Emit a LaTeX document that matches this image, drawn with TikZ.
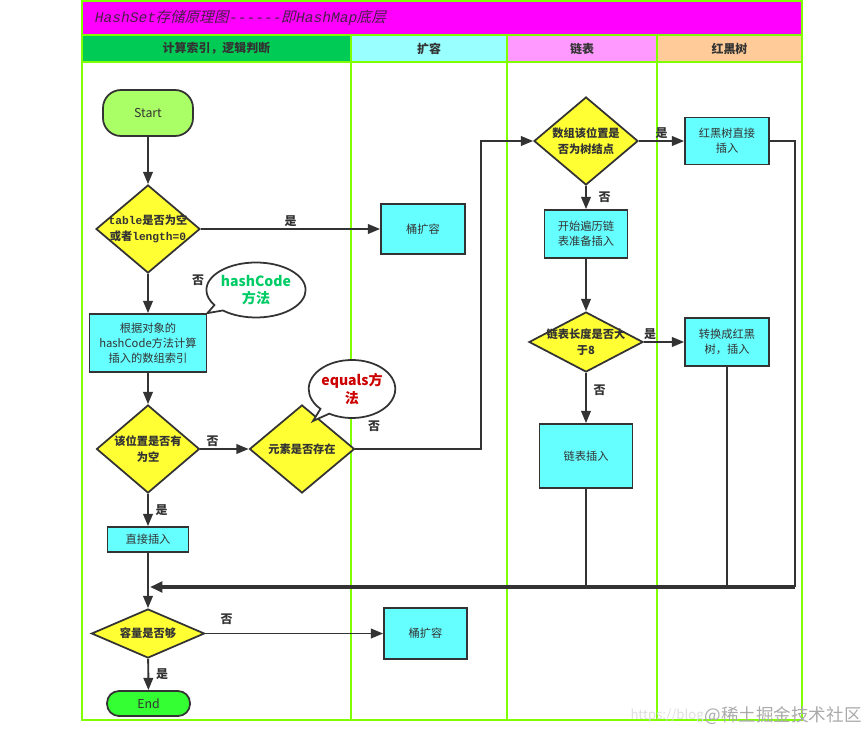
\documentclass[tikz,border=0pt]{standalone}
\usepackage{fontspec}
\setmainfont{Noto Sans CJK SC}
\newfontfamily\monolatin{Liberation Mono}
\newfontfamily\titlemono{Liberation Mono}[FakeSlant=0.2]
\newfontfamily\cjkslant{Noto Sans CJK SC}[FakeSlant=0.25]
\usetikzlibrary{shapes.geometric,shapes.callouts,arrows.meta,positioning}

\definecolor{lanegreen}{HTML}{80FF00}
\definecolor{titlemagenta}{HTML}{FF00FF}
\definecolor{titleink}{HTML}{4A1F4A}
\definecolor{headcalc}{HTML}{00CC55}
\definecolor{headgrow}{HTML}{99FFFF}
\definecolor{headlist}{HTML}{FF99FF}
\definecolor{headtree}{HTML}{FFCC99}
\definecolor{boxcyan}{HTML}{66FFFF}
\definecolor{diayellow}{HTML}{FFFF33}
\definecolor{startlime}{HTML}{AAFF66}
\definecolor{endgreen}{HTML}{33FF33}
\definecolor{ink}{HTML}{333333}
\definecolor{hashgreen}{HTML}{00CC66}
\definecolor{equalsred}{HTML}{CC0000}
\definecolor{wmgray}{HTML}{AAAAAA}
\definecolor{wmlight}{HTML}{DDDDDD}

\newcommand{\pxu}{0.02cm}

\tikzset{
  laneline/.style={draw=lanegreen, line width=1.1pt},
  headtext/.style={font=\fontsize{6.8}{8}\selectfont\bfseries, text=ink},
  terminal/.style={rectangle, draw=ink, line width=1pt, inner sep=0pt, font=\fontsize{7}{8}\selectfont, text=ink},
  process/.style={rectangle, draw=ink, line width=1pt, fill=boxcyan, inner sep=0pt, align=center, font=\fontsize{6.4}{8.5}\selectfont, text=ink},
  decision/.style={diamond, draw=ink, line width=1pt, fill=diayellow, inner sep=0pt},
  dtext/.style={align=center, inner sep=0pt, font=\fontsize{6.4}{9}\selectfont\bfseries, text=ink},
  bubble/.style={ellipse callout, draw=ink, line width=1pt, fill=white, inner sep=0pt, align=center, font=\fontsize{8}{10}\selectfont\bfseries},
  flow/.style={draw=ink, line width=1.1pt, -{Triangle[length=7pt,width=5.5pt]}},
  link/.style={draw=ink, line width=1.1pt},
  backflow/.style={draw=ink, line width=2.2pt, -{Triangle[length=7pt,width=6pt]}},
  branch/.style={font=\fontsize{6.8}{8}\selectfont\bfseries, text=ink, inner sep=1pt},
}

\NewDocumentCommand{\swimlane}{mmmmm}{%
\fill[#4] (#2,35) rectangle (#3,62);
\draw[laneline] (#2,35) rectangle (#3,720);
\draw[laneline] (#2,62) -- (#3,62);
\node[headtext] (#1) at ({(#2+#3)/2},48.5) {#5};%
}

\begin{document}
\begin{tikzpicture}[x=0.02cm,y=-0.02cm]
        \useasboundingbox (0,0) rectangle (868,733);

        % Title bar.
        \fill[titlemagenta] (82,1) rectangle (802,35);
        \draw[laneline] (82,1) rectangle (802,35);
        \node[anchor=west, text=titleink, font=\fontsize{8.3}{10}\selectfont] (title) at (88,18)
            {\titlemono HashSet\cjkslant 存储原理图\titlemono ------\cjkslant 即\titlemono HashMap\cjkslant 底层};

        % Lanes.
        \swimlane{calc}{82}{351}{headcalc}{计算索引，逻辑判断}
        \swimlane{grow}{351}{507}{headgrow}{扩容}
        \swimlane{list}{507}{657}{headlist}{链表}
        \swimlane{tree}{657}{802}{headtree}{红黑树}

        % Index and checks.
        \node[terminal, fill=startlime, minimum width=90*\pxu, minimum height=46*\pxu, rounded corners=0.36cm] (start) at (148,113) {Start};
        \node[decision, minimum width=104*\pxu, minimum height=88*\pxu,
            label={[dtext]center:{\monolatin table}是否为空\\或者{\monolatin length=0}}] (nulltest) at (148,229) {};
        \node[process, minimum width=84*\pxu, minimum height=50*\pxu] (growfirst) at (423,229) {桶扩容};
        \node[process, minimum width=117*\pxu, minimum height=58*\pxu] (hashindex) at (148,343) {根据对象的\\hashCode方法计算\\插入的数组索引};
        \node[decision, minimum width=103*\pxu, minimum height=88*\pxu,
            label={[dtext]center:{该位置是否有\\为空}}] (slotempty) at (148,449) {};
        \node[decision, minimum width=105*\pxu, minimum height=88*\pxu,
            label={[dtext]center:{元素是否存在}}] (elemexists) at (302,449) {};
        \node[process, minimum width=81*\pxu, minimum height=25*\pxu] (directinsert) at (148,539.5) {直接插入};
        \node[decision, minimum width=113*\pxu, minimum height=49*\pxu,
            label={[dtext]center:{容量是否够}}] (capacity) at (148,633.5) {};
        \node[process, minimum width=83*\pxu, minimum height=51*\pxu] (growsecond) at (425.5,633.5) {桶扩容};
        \node[terminal, fill=endgreen, minimum width=83*\pxu, minimum height=25*\pxu, rounded corners=0.24cm] (finish) at (148.5,703.5) {End};

        % Bubbles.
        \node[bubble, text=hashgreen, minimum width=93*\pxu, minimum height=55*\pxu,
            callout absolute pointer={(hashindex.north east)}] (hashbubble) at (256,290) {hashCode\\方法};
        \node[bubble, text=equalsred, minimum width=81*\pxu, minimum height=58*\pxu,
            callout absolute pointer={(313,421)}] (equalsbubble) at (352,389) {equals方\\法};

        % List and tree.
        \node[decision, minimum width=104*\pxu, minimum height=88*\pxu,
            label={[dtext]center:{数组该位置是\\否为树结点}}] (treenode) at (586,141) {};
        \node[process, minimum width=84*\pxu, minimum height=47*\pxu] (treeinsert) at (727,141) {红黑树直接\\插入};
        \node[process, minimum width=83*\pxu, minimum height=48*\pxu] (listwalk) at (586,234) {开始遍历链\\表准备插入};
        \node[decision, minimum width=114*\pxu, minimum height=60*\pxu,
            label={[dtext]center:{链表长度是否大\\于8}}] (listlong) at (586,342) {};
        \node[process, minimum width=84*\pxu, minimum height=48*\pxu] (treeify) at (727,342) {转换成红黑\\树，插入};
        \node[process, minimum width=93*\pxu, minimum height=64*\pxu] (listinsert) at (586,456) {链表插入};

        \coordinate (riser) at (481,141);
        \coordinate (retcorner) at (795,587);
        \coordinate (join) at (150,587);

        % Connectors.
        \draw[flow] (start) -- (nulltest);
        \draw[flow] (nulltest) -- node[branch, above] {是} (growfirst);
        \draw[flow] (nulltest) -- node[branch, pos=0.15, xshift=1cm] {否} (hashindex);
        \draw[flow] (hashindex) -- (slotempty);
        \draw[flow] (slotempty) -- node[branch, above, xshift=-0.24cm] {否} (elemexists);
        \draw[flow] (slotempty) -- node[branch, right, xshift=0.1cm] {是} (directinsert);
        \draw[flow] (elemexists.east) node[branch, anchor=south west, xshift=0.2cm, yshift=0.3cm] {否} -| (riser) -- (treenode.west);
        \draw[flow] (treenode) -- node[branch, right, xshift=0.2cm] {否} (listwalk);
        \draw[flow] (treenode) -- node[branch, above] {是} (treeinsert);
        \draw[flow] (listwalk) -- (listlong);
        \draw[flow] (listlong) -- node[branch, above, xshift=-0.28cm] {是} (treeify);
        \draw[flow] (listlong) -- node[branch, pos=0.35, right, xshift=0.1cm] {否} (listinsert);

        % Back to the main line.
        \draw[link] (treeinsert.east) -| (retcorner);
        \draw[link] (treeify) -- (treeify |- retcorner);
        \draw[link] (listinsert) -- (listinsert |- retcorner);
        \draw[backflow] (retcorner) -- (join);

        \draw[flow] (directinsert) -- (capacity);
        \draw[flow] (capacity) -- node[branch, pos=0.12, above, yshift=0.12cm] {否} (growsecond);
        \draw[flow] (capacity) -- node[branch, right, xshift=0.1cm] {是} (finish);

        % Watermark.
        \node[anchor=east, text=wmgray, font=\fontsize{10}{12}\selectfont, inner sep=0pt] (wmsite) at (862,716) {@稀土掘金技术社区};
        \node[left=0pt of wmsite, text=wmlight, font=\fontsize{7.5}{9}\selectfont, inner sep=0pt] (wmurl) {https://blog};
\end{tikzpicture}
\end{document}
